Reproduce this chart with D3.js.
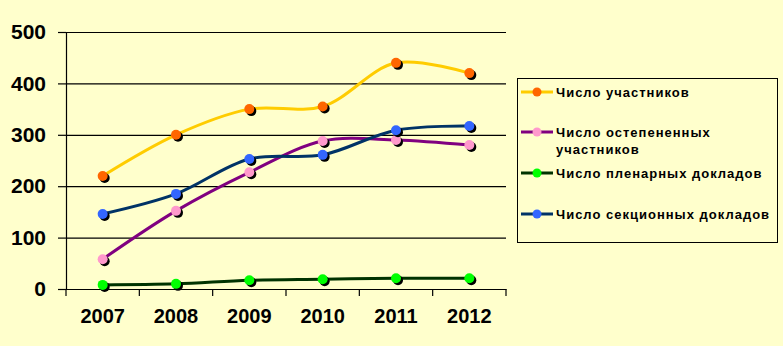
<!DOCTYPE html>
<html><head><meta charset="utf-8">
<script src="https://cdn.jsdelivr.net/npm/d3@7"></script>
<style>body{margin:0;background:#FFFFCC;}svg{display:block;}</style>
</head><body>
<script>
const categories = ["2007","2008","2009","2010","2011","2012"];
const participants = [220, 300, 350, 355, 440, 420];
const degreed = [58, 152, 227, 288, 290, 280];
const plenary = [8, 10, 17, 19, 21, 21];
const sectional = [146, 185, 253, 261, 309, 317];
const seriesNames = ["Число участников", "Число остепененных участников", "Число пленарных докладов", "Число секционных докладов"];
const yTicks = [0, 100, 200, 300, 400, 500];

const series = [
  {name: seriesNames[0], values: participants, line: "#FFCC00", marker: "#FF6600"},
  {name: seriesNames[1], values: degreed, line: "#800080", marker: "#FF99CC"},
  {name: seriesNames[2], values: plenary, line: "#003300", marker: "#00FF00"},
  {name: seriesNames[3], values: sectional, line: "#003366", marker: "#3366FF"}
];

const W = 783, H = 346;
const svg = d3.select("body").append("svg").attr("width", W).attr("height", H);
svg.append("rect").attr("width", W).attr("height", H).attr("fill", "#FFFFCC");

const mLeft = 66, mRight = 506, mTop = 32, mBottom = 289;
const x = d3.scaleBand().domain(categories).range([mLeft, mRight]);
const y = d3.scaleLinear().domain([0, 500]).range([mBottom, mTop]);

// gridlines + y axis
const yAxis = d3.axisLeft(y).tickValues(yTicks).tickSize(8).tickPadding(12).tickFormat(d3.format("d"));
const gy = svg.append("g").attr("transform", `translate(${mLeft},0)`).call(yAxis);
gy.select(".domain").attr("stroke", "#000").attr("stroke-width", 1.2);
gy.selectAll(".tick line").attr("stroke", "#000").attr("x2", -8).attr("stroke-width", 1.2);
gy.selectAll(".tick").append("line").attr("x1", 0).attr("x2", mRight - mLeft).attr("stroke", "#000").attr("stroke-width", 1.2);
gy.selectAll(".tick text").attr("font-family", "Arial, 'Liberation Sans', sans-serif").attr("font-weight", "bold").attr("font-size", 21).attr("fill", "#000");

// x axis
const xAxis = d3.axisBottom(x).tickSize(0).tickPadding(20);
const gx = svg.append("g").attr("transform", `translate(0,${mBottom})`).call(xAxis);
gx.select(".domain").attr("stroke", "#000").attr("stroke-width", 1.2);
gx.selectAll(".tick text").attr("font-family", "Arial, 'Liberation Sans', sans-serif").attr("font-weight", "bold").attr("font-size", 20).attr("fill", "#000");
// category boundary ticks
const bounds = categories.map(c => x(c)).concat([x(categories[categories.length-1]) + x.bandwidth()]);
gx.selectAll(".bt").data(bounds).enter().append("line")
  .attr("x1", d => d).attr("x2", d => d).attr("y1", 0).attr("y2", 7)
  .attr("stroke", "#000").attr("stroke-width", 1.2);

const cx = c => x(c) + x.bandwidth() / 2;
const line = d3.line().x((d, i) => cx(categories[i])).y(d => y(d)).curve(d3.curveCatmullRom.alpha(0.5));

series.forEach(s => {
  svg.append("path").attr("d", line(s.values)).attr("fill", "none").attr("stroke", s.line).attr("stroke-width", 3);
  const g = svg.append("g");
  g.selectAll(".sh").data(s.values).enter().append("circle")
    .attr("cx", (d, i) => cx(categories[i]) + 2).attr("cy", d => y(d) + 2).attr("r", 5).attr("fill", "#000");
  g.selectAll(".mk").data(s.values).enter().append("circle")
    .attr("cx", (d, i) => cx(categories[i])).attr("cy", d => y(d)).attr("r", 5).attr("fill", s.marker);
});

// legend
const lg = svg.append("g");
lg.append("rect").attr("x", 517.5).attr("y", 78.5).attr("width", 260).attr("height", 164)
  .attr("fill", "#FFFFCC").attr("stroke", "#000").attr("stroke-width", 1);
const rowsY = [92, 132, 173, 214];
series.forEach((s, i) => {
  const yy = rowsY[i];
  lg.append("line").attr("x1", 521).attr("x2", 553).attr("y1", yy).attr("y2", yy).attr("stroke", s.line).attr("stroke-width", 3);
  lg.append("circle").attr("cx", 537).attr("cy", yy).attr("r", 4.5).attr("fill", s.marker);
  const t = lg.append("text").attr("x", 556).attr("y", yy + 4.5)
    .attr("font-family", "Arial, 'Liberation Sans', sans-serif").attr("font-weight", "bold").attr("font-size", 13)
    .attr("letter-spacing", 1).attr("fill", "#000");
  if (i === 1) {
    t.append("tspan").attr("x", 556).text("Число остепененных");
    t.append("tspan").attr("x", 556).attr("dy", 17).text("участников");
  } else {
    t.text(s.name);
  }
});
</script>
</body></html>
